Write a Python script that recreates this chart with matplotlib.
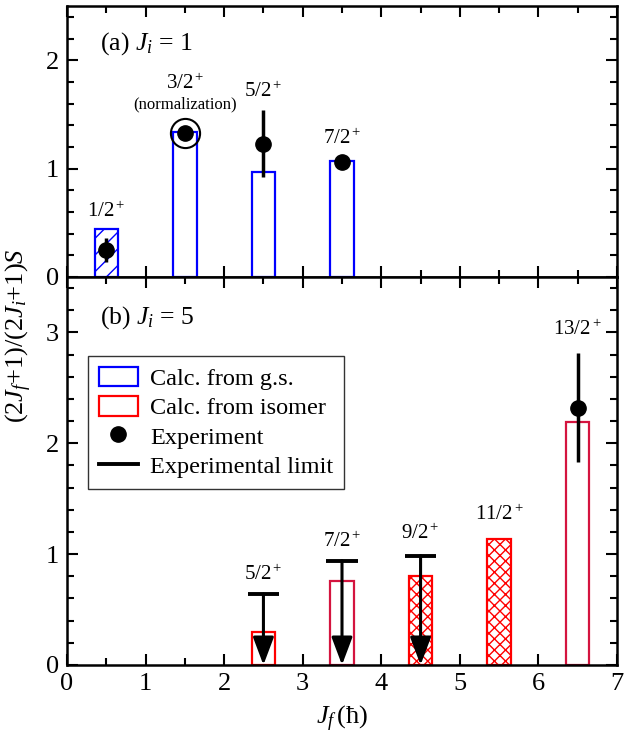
import matplotlib
matplotlib.use("Agg")
import matplotlib.pyplot as plt
from matplotlib.patches import Patch
from matplotlib.lines import Line2D
from matplotlib.ticker import MultipleLocator

plt.rcParams['font.family'] = ['Liberation Serif', 'DejaVu Serif']
plt.rcParams['mathtext.fontset'] = 'custom'
plt.rcParams['mathtext.rm'] = 'Liberation Serif'
plt.rcParams['mathtext.it'] = 'Liberation Serif:italic'
plt.rcParams['hatch.linewidth'] = 1.0

# (a) J_i = 1
top_jf = [0.5, 1.5, 2.5, 3.5]
top_calc = [0.44, 1.34, 0.97, 1.07]
top_hatch = ['//', '', '', '']
top_exp = [0.25, 1.33, 1.23, 1.06]
top_err = [0.11, 0.0, 0.31, 0.03]
top_labels = ['1/2$^+$', '3/2$^+$', '5/2$^+$', '7/2$^+$']
top_label_y = [0.51, 1.69, 1.61, 1.18]

# (b) J_i = 5
bot_jf = [2.5, 3.5, 4.5, 5.5, 6.5]
bot_calc = [0.30, 0.76, 0.80, 1.135, 2.19]
bot_hatch = ['', '', 'xxx', 'xxx', '']
bot_edge = ['red', '#d4143f', 'red', 'red', '#d4143f']
bot_labels = ['5/2$^+$', '7/2$^+$', '9/2$^+$', '11/2$^+$', '13/2$^+$']
bot_label_y = [0.72, 1.02, 1.09, 1.26, 2.93]
lim_jf = [2.5, 3.5, 4.5]
lim_val = [0.64, 0.94, 0.985]
exp_jf = [6.5]
exp_val = [2.32]
exp_err = [0.49]

fig = plt.figure(figsize=(6.25, 7.4), dpi=100)
ax1 = fig.add_axes([0.1072, 0.6257, 0.88, 0.3662])
ax2 = fig.add_axes([0.1072, 0.1014, 0.88, 0.5243])

bw = 0.3

# top panel
ax1.bar(top_jf, top_calc, width=bw, facecolor='white', edgecolor='blue',
        linewidth=1.6, hatch=top_hatch, zorder=2)
ax1.errorbar(top_jf, top_exp, yerr=top_err, fmt='o', color='k', ms=11,
             elinewidth=2.5, capsize=0, zorder=4)
ax1.plot(top_jf[1], top_exp[1], 'o', ms=21, mfc='none', mec='k', mew=1.5, zorder=4)
for x, y, s in zip(top_jf, top_label_y, top_labels):
    ax1.text(x, y, s, ha='center', va='bottom', fontsize=15)
ax1.text(top_jf[1], 1.52, '(normalization)', ha='center', va='bottom', fontsize=12)
ax1.text(0.42, 2.15, '(a) $J_i$ = 1', ha='left', va='center', fontsize=18.5)
ax1.set_ylim(0, 2.5)

# bottom panel
ax2.bar(bot_jf, bot_calc, width=bw, facecolor='white', edgecolor=bot_edge,
        linewidth=1.6, hatch=bot_hatch, zorder=2)
ax2.errorbar(exp_jf, exp_val, yerr=exp_err, fmt='o', color='k', ms=11,
             elinewidth=2.5, capsize=0, zorder=4)
ax2.hlines(lim_val, [x - 0.2 for x in lim_jf], [x + 0.2 for x in lim_jf],
           color='k', lw=2.8, zorder=4)
for x, v in zip(lim_jf, lim_val):
    ax2.annotate('', xy=(x, 0), xytext=(x, v),
                 arrowprops=dict(arrowstyle='-|>,head_length=0.85,head_width=0.32',
                                 mutation_scale=20, color='k', lw=2.2,
                                 shrinkA=0, shrinkB=0), zorder=4)
for x, y, s in zip(bot_jf, bot_label_y, bot_labels):
    ax2.text(x, y, s, ha='center', va='bottom', fontsize=15)
ax2.text(0.42, 3.13, '(b) $J_i$ = 5', ha='left', va='center', fontsize=18.5)
ax2.set_ylim(0, 3.5)

handles = [Patch(facecolor='white', edgecolor='blue', linewidth=1.6),
           Patch(facecolor='white', edgecolor='red', linewidth=1.6),
           Line2D([], [], ls='none', marker='o', color='k', ms=11),
           Line2D([], [], color='k', lw=2.8)]
names = ['Calc. from g.s.', 'Calc. from isomer', 'Experiment', 'Experimental limit']
leg = ax2.legend(handles, names, loc='upper left', bbox_to_anchor=(0.038, 0.796),
                 borderaxespad=0, fontsize=17.5, frameon=True, fancybox=False,
                 edgecolor='k', handlelength=1.6, handleheight=0.85,
                 handletextpad=0.5, labelspacing=0.25, borderpad=0.45)
leg.get_frame().set_linewidth(1.0)

for ax in (ax1, ax2):
    ax.set_xlim(0, 7)
    ax.xaxis.set_major_locator(MultipleLocator(1))
    ax.xaxis.set_minor_locator(MultipleLocator(0.5))
    ax.yaxis.set_major_locator(MultipleLocator(1))
    ax.yaxis.set_minor_locator(MultipleLocator(0.2))
    ax.tick_params(which='both', direction='in', top=True, right=True, width=1.5,
                   labelsize=19, pad=6)
    ax.tick_params(which='major', length=8)
    ax.tick_params(which='minor', length=5)
    for sp in ax.spines.values():
        sp.set_linewidth(1.8)

ax1.tick_params(labelbottom=False)
ax2.set_xlabel('$J_f\\,$(ħ)', fontsize=19, labelpad=6)
fig.text(0.03, 0.547, '(2$J_f$+1)/(2$J_i$+1)$S$', rotation=90, ha='center',
         va='center', fontsize=19)

fig.savefig('out.png', dpi=100)
